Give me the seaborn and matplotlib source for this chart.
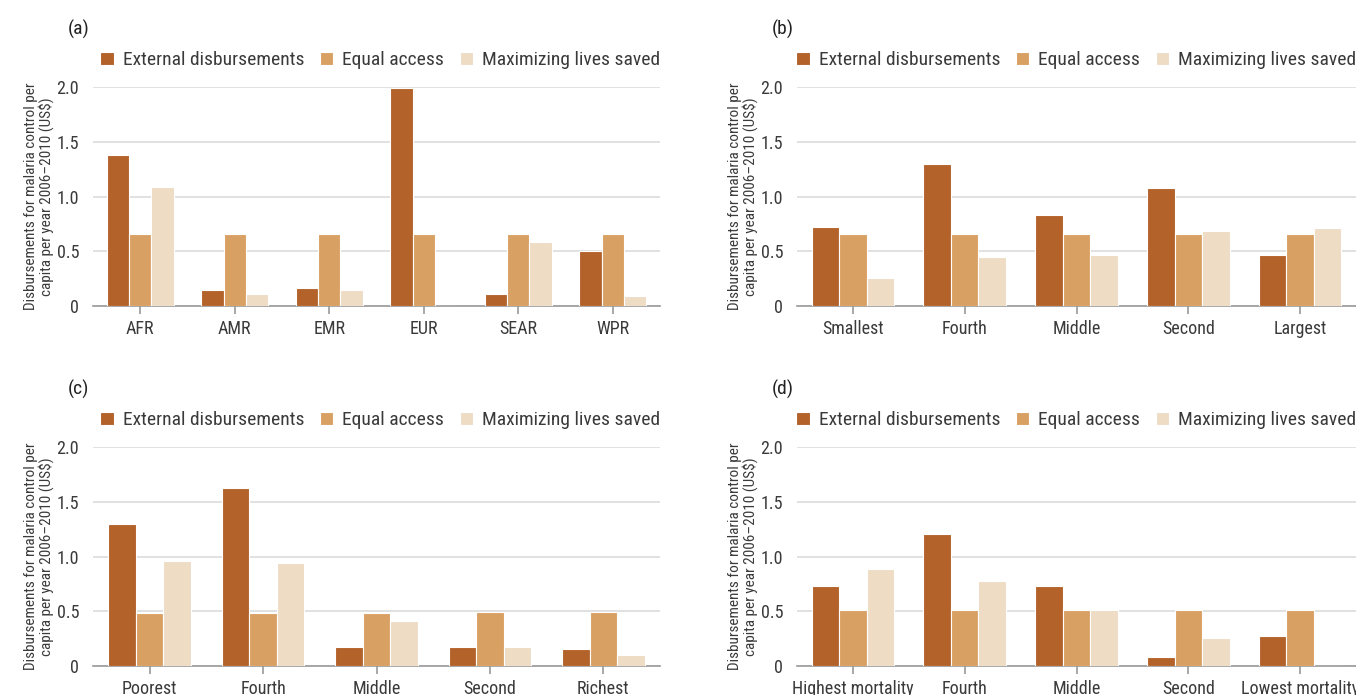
import numpy as np
import pandas as pd
import matplotlib
matplotlib.use("Agg")
import matplotlib.pyplot as plt
import seaborn as sns
from matplotlib import font_manager

series = ["External disbursements", "Equal access", "Maximizing lives saved"]
colors = ["#b3622a", "#d9a064", "#eedcc4"]

cats_a = ["AFR", "AMR", "EMR", "EUR", "SEAR", "WPR"]
ext_a = [1.38, 0.15, 0.165, 1.99, 0.11, 0.50]
eq_a = [0.655, 0.655, 0.655, 0.655, 0.655, 0.655]
max_a = [1.085, 0.11, 0.145, 0.0, 0.58, 0.09]

cats_b = ["Smallest", "Fourth", "Middle", "Second", "Largest"]
ext_b = [0.72, 1.30, 0.83, 1.08, 0.465]
eq_b = [0.655, 0.655, 0.655, 0.655, 0.655]
max_b = [0.255, 0.45, 0.465, 0.685, 0.71]

cats_c = ["Poorest", "Fourth", "Middle", "Second", "Richest"]
ext_c = [1.295, 1.63, 0.175, 0.175, 0.155]
eq_c = [0.48, 0.48, 0.48, 0.49, 0.49]
max_c = [0.96, 0.94, 0.41, 0.175, 0.105]

cats_d = ["Highest mortality", "Fourth", "Middle", "Second", "Lowest mortality"]
ext_d = [0.735, 1.21, 0.735, 0.08, 0.275]
eq_d = [0.51, 0.51, 0.51, 0.51, 0.51]
max_d = [0.885, 0.78, 0.51, 0.26, 0.0]

ylabel = "Disbursements for malaria control per\ncapita per year 2006\u20132010 (US$)"

sns.set_theme(style="white")
avail = {f.name for f in font_manager.fontManager.ttflist}
fam = [f for f in ["Liberation Sans Narrow", "Roboto Condensed", "Open Sans Condensed"] if f in avail]
plt.rcParams["font.family"] = fam + ["DejaVu Sans"]
TXT = "#3a3a3a"

fig = plt.figure(figsize=(13.56, 6.95), dpi=100)
W, H = 1356, 695

def make_ax(l, r, top, bot):
    return fig.add_axes([l / W, 1 - bot / H, (r - l) / W, (bot - top) / H])

panels = [
    ("(a)", cats_a, ext_a, eq_a, max_a, make_ax(93, 660, 87, 306), 0.71),
    ("(b)", cats_b, ext_b, eq_b, max_b, make_ax(797, 1356, 87, 306), 0.74),
    ("(c)", cats_c, ext_c, eq_c, max_c, make_ax(93, 660, 447, 666), 0.73),
    ("(d)", cats_d, ext_d, eq_d, max_d, make_ax(797, 1356, 447, 666), 0.74),
]

for label, cats, e, q, m, ax, w in panels:
    df = pd.DataFrame({
        "cat": cats * 3,
        "series": [series[0]] * len(cats) + [series[1]] * len(cats) + [series[2]] * len(cats),
        "value": list(e) + list(q) + list(m),
    })
    sns.barplot(data=df, x="cat", y="value", hue="series", order=cats, hue_order=series,
                palette=colors, saturation=1, width=w, edgecolor="white", linewidth=0.8,
                ax=ax, zorder=3)
    ax.set_ylim(0, 2.0)
    ax.set_xlim(-0.5, len(cats) - 0.5)
    ax.set_yticks([0, 0.5, 1.0, 1.5, 2.0])
    ax.set_yticklabels(["0", "0.5", "1.0", "1.5", "2.0"])
    ax.yaxis.grid(True, color="#dcdcdc", linewidth=1.2, zorder=0)
    ax.set_axisbelow(True)
    for s in ["top", "right", "left"]:
        ax.spines[s].set_visible(False)
    ax.spines["bottom"].set_color("#9a9a9a")
    ax.spines["bottom"].set_linewidth(1.2)
    ax.tick_params(axis="x", length=6, width=1.2, color="#9a9a9a", labelsize=13, labelcolor=TXT, pad=4, direction="out", bottom=True)
    ax.tick_params(axis="y", length=0, labelsize=13, labelcolor=TXT, pad=10)
    ax.set_xlabel("")
    ax.set_ylabel(ylabel, fontsize=11, color=TXT, labelpad=2, linespacing=1.0)
    leg = ax.legend(ncol=3, loc="lower right", bbox_to_anchor=(1.0, 1.08), frameon=False,
                    fontsize=14, handlelength=0.7, handleheight=0.7, handletextpad=0.45,
                    columnspacing=0.8, borderaxespad=0, borderpad=0)
    for t in leg.get_texts():
        t.set_color(TXT)
    ax.text(-0.045, 1.22, label, transform=ax.transAxes, fontsize=14, color="#222222",
            ha="left", va="bottom")

fig.savefig("out.png", dpi=100)
